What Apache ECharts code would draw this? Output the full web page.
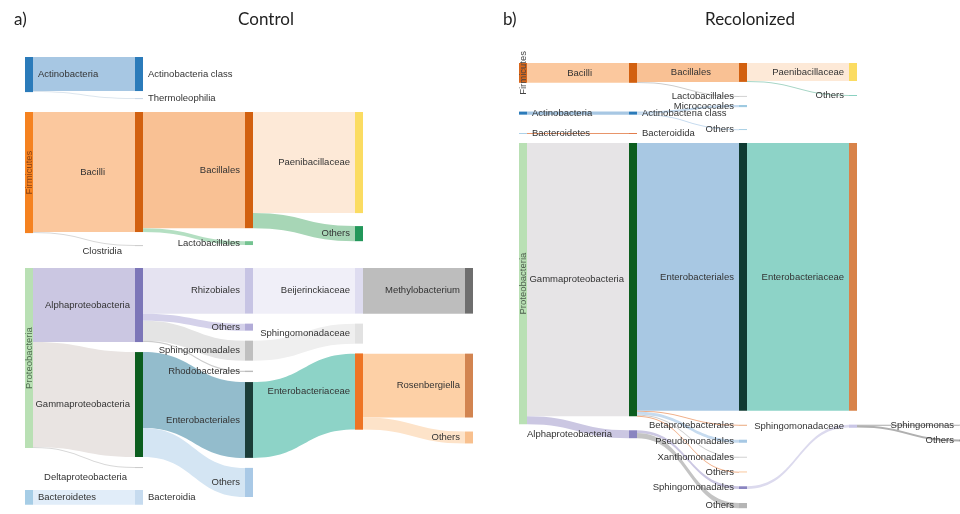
<!DOCTYPE html>
<html>
<head>
<meta charset="utf-8">
<script src="https://cdn.jsdelivr.net/npm/echarts@6/dist/echarts.min.js"></script>
<style>
  html, body { margin: 0; padding: 0; background: #ffffff; }
  #chart { width: 960px; height: 514px; }
</style>
</head>
<body>
<div id="chart"></div>
<script>
// Taxonomic flows (phylum -> class -> order -> family -> genus), relative abundance in %.
// Node names of the form "Parent / Others" are displayed as "Others".

// ---------- Control ----------
const controlActinoLinks = [
  ['Actinobacteria', 'Actinobacteria class', 9.7],
  ['Actinobacteria', 'Thermoleophilia', 0.3]
];
const controlFirmicutesLinks = [
  ['Firmicutes', 'Bacilli', 34.2],
  ['Firmicutes', 'Clostridia', 0.3],
  ['Bacilli', 'Bacillales', 33.1],
  ['Bacilli', 'Lactobacillales', 1.1],
  ['Bacillales', 'Paenibacillaceae', 28.8],
  ['Bacillales', 'Bacillales / Others', 4.3]
];
const controlProteoLinks = [
  ['Proteobacteria', 'Alphaproteobacteria', 21.1],
  ['Proteobacteria', 'Gammaproteobacteria', 29.9],
  ['Proteobacteria', 'Deltaproteobacteria', 0.3],
  ['Alphaproteobacteria', 'Rhizobiales', 13.0],
  ['Alphaproteobacteria', 'Alphaproteobacteria / Others', 2.0],
  ['Alphaproteobacteria', 'Sphingomonadales', 5.7],
  ['Alphaproteobacteria', 'Rhodobacterales', 0.4],
  ['Gammaproteobacteria', 'Enterobacteriales', 21.6],
  ['Gammaproteobacteria', 'Gammaproteobacteria / Others', 8.3],
  ['Rhizobiales', 'Beijerinckiaceae', 13.0],
  ['Sphingomonadales', 'Sphingomonadaceae', 5.7],
  ['Enterobacteriales', 'Enterobacteriaceae', 21.6],
  ['Beijerinckiaceae', 'Methylobacterium', 13.0]
];
const controlEnterobacteriaceaeLinks = [
  ['Enterobacteriaceae', 'Rosenbergiella', 18.2],
  ['Enterobacteriaceae', 'Enterobacteriaceae / Others', 3.4]
];
const controlBacteroidetesLinks = [
  ['Bacteroidetes', 'Bacteroidia', 4.2]
];

// ---------- Recolonized ----------
const recolFirmicutesLinks = [
  ['Firmicutes', 'Bacilli', 6.5],
  ['Bacilli', 'Bacillales', 6.2],
  ['Bacilli', 'Lactobacillales', 0.3],
  ['Bacillales', 'Paenibacillaceae', 5.9],
  ['Bacillales', 'Bacillales / Others', 0.3]
];
const recolActinoLinks = [
  ['Actinobacteria', 'Actinobacteria class', 1.0],
  ['Actinobacteria class', 'Micrococcales', 0.7],
  ['Actinobacteria class', 'Actinobacteria class / Others', 0.3]
];
const recolBacteroidetesLinks = [
  ['Bacteroidetes', 'Bacteroidida', 0.3]
];
const recolProteoLinks = [
  ['Proteobacteria', 'Gammaproteobacteria', 89.6],
  ['Proteobacteria', 'Alphaproteobacteria', 2.6],
  ['Gammaproteobacteria', 'Enterobacteriales', 87.8],
  ['Gammaproteobacteria', 'Betaprotebacterales', 0.3],
  ['Gammaproteobacteria', 'Pseudomonadales', 1.0],
  ['Gammaproteobacteria', 'Xanthomonadales', 0.3],
  ['Gammaproteobacteria', 'Gammaproteobacteria / Others', 0.2],
  ['Alphaproteobacteria', 'Sphingomonadales', 0.9],
  ['Alphaproteobacteria', 'Alphaproteobacteria / Others', 1.7],
  ['Enterobacteriales', 'Enterobacteriaceae', 87.8],
  ['Sphingomonadales', 'Sphingomonadaceae', 0.9]
];
const recolSphingomonadaceaeLinks = [
  ['Sphingomonadaceae', 'Sphingomonas', 0.2],
  ['Sphingomonadaceae', 'Sphingomonadaceae / Others', 0.7]
];

// ---------- colours ----------
const controlNodeColors = {
  'Actinobacteria': '#2b7bba', 'Firmicutes': '#f58220', 'Proteobacteria': '#b9e0b4', 'Bacteroidetes': '#a6cde6',
  'Actinobacteria class': '#2b7bba', 'Thermoleophilia': '#c8d8e8', 'Bacilli': '#d2600f', 'Clostridia': '#cccccc',
  'Alphaproteobacteria': '#7c76b8', 'Gammaproteobacteria': '#0b5d1e', 'Deltaproteobacteria': '#cccccc', 'Bacteroidia': '#c6dbef',
  'Bacillales': '#d2600f', 'Lactobacillales': '#74c391', 'Rhizobiales': '#c7c4e4', 'Alphaproteobacteria / Others': '#b2acd8',
  'Sphingomonadales': '#bfbfbf', 'Rhodobacterales': '#bbbbbb', 'Enterobacteriales': '#1b3d38', 'Gammaproteobacteria / Others': '#a9c9e6',
  'Paenibacillaceae': '#fbdc62', 'Bacillales / Others': '#22975a', 'Beijerinckiaceae': '#dedcf0', 'Sphingomonadaceae': '#e2e2e2',
  'Enterobacteriaceae': '#ee7424', 'Methylobacterium': '#6e6e6e', 'Rosenbergiella': '#d28450', 'Enterobacteriaceae / Others': '#f8c08e'
};
const controlLinkColors = {
  'Actinobacteria class': '#a7c7e3', 'Thermoleophilia': '#dde6ee', 'Bacilli': '#fbc89e', 'Clostridia': '#d8d8d8',
  'Alphaproteobacteria': '#cbc7e2', 'Gammaproteobacteria': '#e9e4e2', 'Deltaproteobacteria': '#d8d8d8', 'Bacteroidia': '#e1edf9',
  'Bacillales': '#f9c194', 'Lactobacillales': '#b4dfc2', 'Rhizobiales': '#e5e3f1', 'Alphaproteobacteria / Others': '#d4d1ea',
  'Sphingomonadales': '#e4e4e4', 'Rhodobacterales': '#cccccc', 'Enterobacteriales': '#93bccc', 'Gammaproteobacteria / Others': '#d4e5f3',
  'Paenibacillaceae': '#fde9d7', 'Bacillales / Others': '#a7d6b6', 'Beijerinckiaceae': '#f0eff8', 'Sphingomonadaceae': '#efefef',
  'Enterobacteriaceae': '#8dd3c7', 'Methylobacterium': '#bdbdbd', 'Rosenbergiella': '#fdd0a6', 'Enterobacteriaceae / Others': '#fde3c9'
};
const recolNodeColors = {
  'Firmicutes': '#d8671c', 'Actinobacteria': '#2b7bba', 'Bacteroidetes': '#a6cde6', 'Proteobacteria': '#b9e0b4',
  'Bacilli': '#d2600f', 'Actinobacteria class': '#2b7bba', 'Bacteroidida': '#e0703a',
  'Gammaproteobacteria': '#0b5d1e', 'Alphaproteobacteria': '#8a85c0',
  'Bacillales': '#d2600f', 'Lactobacillales': '#cccccc', 'Micrococcales': '#9ecae1', 'Actinobacteria class / Others': '#9ecae1',
  'Enterobacteriales': '#0f3b32', 'Betaprotebacterales': '#e8a070', 'Pseudomonadales': '#a6c8e4', 'Xanthomonadales': '#cccccc',
  'Gammaproteobacteria / Others': '#f4a460', 'Sphingomonadales': '#8a85c0', 'Alphaproteobacteria / Others': '#b5b5b5',
  'Paenibacillaceae': '#fbdc62', 'Bacillales / Others': '#7fcdbb', 'Enterobacteriaceae': '#d8834a', 'Sphingomonadaceae': '#c9c6e6',
  'Sphingomonas': '#999999', 'Sphingomonadaceae / Others': '#999999'
};
const recolLinkColors = {
  'Bacilli': '#fbc89e', 'Actinobacteria class': '#a7c7e3', 'Bacteroidida': '#e8956a',
  'Gammaproteobacteria': '#e6e4e6', 'Alphaproteobacteria': '#cbc7e2',
  'Bacillales': '#f9c194', 'Lactobacillales': '#cccccc', 'Micrococcales': '#c6dbef', 'Actinobacteria class / Others': '#c6dbef',
  'Enterobacteriales': '#a8c8e3', 'Betaprotebacterales': '#f0b08a', 'Pseudomonadales': '#c6dbef', 'Xanthomonadales': '#cccccc',
  'Gammaproteobacteria / Others': '#f0b08a', 'Sphingomonadales': '#cbc7e2', 'Alphaproteobacteria / Others': '#c4c4c4',
  'Paenibacillaceae': '#fde9d7', 'Bacillales / Others': '#a7d6c6', 'Enterobacteriaceae': '#8dd3c7',
  'Sphingomonadaceae': '#dcdaee', 'Sphingomonas': '#aaaaaa', 'Sphingomonadaceae / Others': '#b0b0b0'
};

// ---------- labels ----------
const labelStyles = {
  control: {
    right: ['Actinobacteria', 'Actinobacteria class', 'Thermoleophilia', 'Bacteroidetes', 'Bacteroidia'],
    vertical: { 'Firmicutes': '#8a4316', 'Proteobacteria': '#4d6b4d' },
    distance: { 'Bacilli': 30, 'Clostridia': 13, 'Deltaproteobacteria': 8 },
    offset: { 'Clostridia': [0, 6], 'Deltaproteobacteria': [0, 10] }
  },
  recol: {
    right: ['Actinobacteria', 'Actinobacteria class', 'Bacteroidetes', 'Bacteroidida'],
    vertical: { 'Firmicutes': '#444444', 'Proteobacteria': '#4d5d4d' },
    distance: { 'Bacilli': 37, 'Bacillales': 28, 'Alphaproteobacteria': 17 },
    offset: {}
  }
};

// ---------- panel layout ----------
// K: pixels per percent, shared by every block of a panel; step: column spacing.
const NODE_W = 8;
const controlLayout = { key: 'control', left: 25, step: 110, K: 3.51, nodeColors: controlNodeColors, linkColors: controlLinkColors };
const recolLayout = { key: 'recol', left: 519, step: 110, K: 3.05, nodeColors: recolNodeColors, linkColors: recolLinkColors };

// one block per phylum; "from" continues a block at one of its nodes
const controlBlocks = [
  { links: controlActinoLinks, top: 57, gap: 7 },
  { links: controlFirmicutesLinks, top: 112, gap: 13 },
  { links: controlProteoLinks, top: 268, gap: 10 },
  { links: controlEnterobacteriaceaeLinks, from: 2, col: 3, gap: 14 },
  { links: controlBacteroidetesLinks, top: 490, gap: 10 }
];
const recolBlocks = [
  { links: recolFirmicutesLinks, top: 63, gap: 14 },
  { links: recolActinoLinks, top: 105, gap: 22, iterations: 32 },
  { links: recolBacteroidetesLinks, top: 133, gap: 10 },
  { links: recolProteoLinks, top: 143, gap: 14 },
  { links: recolSphingomonadaceaeLinks, from: 3, col: 3, gap: 14 }
];

const FONT = '"Liberation Sans", Arial, sans-serif';

function buildPanel(layout, blocks) {
  const styles = labelStyles[layout.key];
  const placed = [];
  return blocks.map(block => {
    const depth = {}, order = [], inSum = {}, outSum = {};
    block.links.forEach(([s, t, v]) => {
      if (!(s in depth)) { depth[s] = 0; order.push(s); }
      if (!(t in depth)) { depth[t] = depth[s] + 1; order.push(t); }
      outSum[s] = (outSum[s] || 0) + v;
      inSum[t] = (inSum[t] || 0) + v;
    });
    const value = n => Math.max(inSum[n] || 0, outSum[n] || 0);
    const cols = [];
    order.forEach(n => { (cols[depth[n]] = cols[depth[n]] || []).push(n); });

    // block height chosen so that the library's scale equals layout.K
    const height = Math.max(...cols.map(c =>
      layout.K * c.reduce((a, n) => a + value(n), 0) + (c.length - 1) * block.gap));
    const offsets = {};
    cols.forEach(c => {
      let y = 0;
      c.forEach(n => { offsets[n] = y; y += layout.K * value(n) + block.gap; });
    });

    const root = order[0];
    const top = block.from != null ? placed[block.from].top + placed[block.from].offsets[root] : block.top;
    placed.push({ top, offsets });
    const col = block.col || 0;

    const data = order.map(name => {
      const label = {};
      if (block.from != null && name === root) {
        label.show = false;
      } else if (styles.vertical[name]) {
        Object.assign(label, { position: 'inside', rotate: 90, color: styles.vertical[name] });
      } else {
        label.position = styles.right.includes(name) ? 'right' : 'left';
      }
      if (styles.distance[name] != null) label.distance = styles.distance[name];
      if (styles.offset[name]) label.offset = styles.offset[name];
      return { name, depth: depth[name], itemStyle: { color: layout.nodeColors[name] }, label };
    });
    const links = block.links.map(([source, target, v]) => ({
      source, target, value: v, lineStyle: { color: layout.linkColors[target] }
    }));

    return {
      type: 'sankey',
      left: layout.left + col * layout.step,
      top: top,
      width: (cols.length - 1) * layout.step + NODE_W,
      height: height,
      nodeWidth: NODE_W,
      nodeGap: block.gap,
      layoutIterations: block.iterations || 0,
      nodeAlign: 'left',
      draggable: false,
      silent: true,
      emphasis: { disabled: true },
      itemStyle: { borderWidth: 0 },
      lineStyle: { opacity: 1, curveness: 0.5 },
      label: {
        fontSize: 9.5,
        fontFamily: FONT,
        color: '#333333',
        formatter: p => p.name.split(' / ').pop()
      },
      data,
      links
    };
  });
}

const titleFont = { fontFamily: 'Lato, "Open Sans", sans-serif', fontSize: 17, fontWeight: 'normal', color: '#222222' };

const chart = echarts.init(document.getElementById('chart'), null, { renderer: 'canvas' });
chart.setOption({
  backgroundColor: '#ffffff',
  animation: false,
  title: [
    { text: 'a)', left: 9, top: 6, textStyle: titleFont },
    { text: 'Control', left: 261, top: 6, textAlign: 'center', textStyle: titleFont },
    { text: 'b)', left: 498, top: 6, textStyle: titleFont },
    { text: 'Recolonized', left: 745, top: 6, textAlign: 'center', textStyle: titleFont }
  ],
  series: buildPanel(controlLayout, controlBlocks).concat(buildPanel(recolLayout, recolBlocks))
});
</script>
</body>
</html>
